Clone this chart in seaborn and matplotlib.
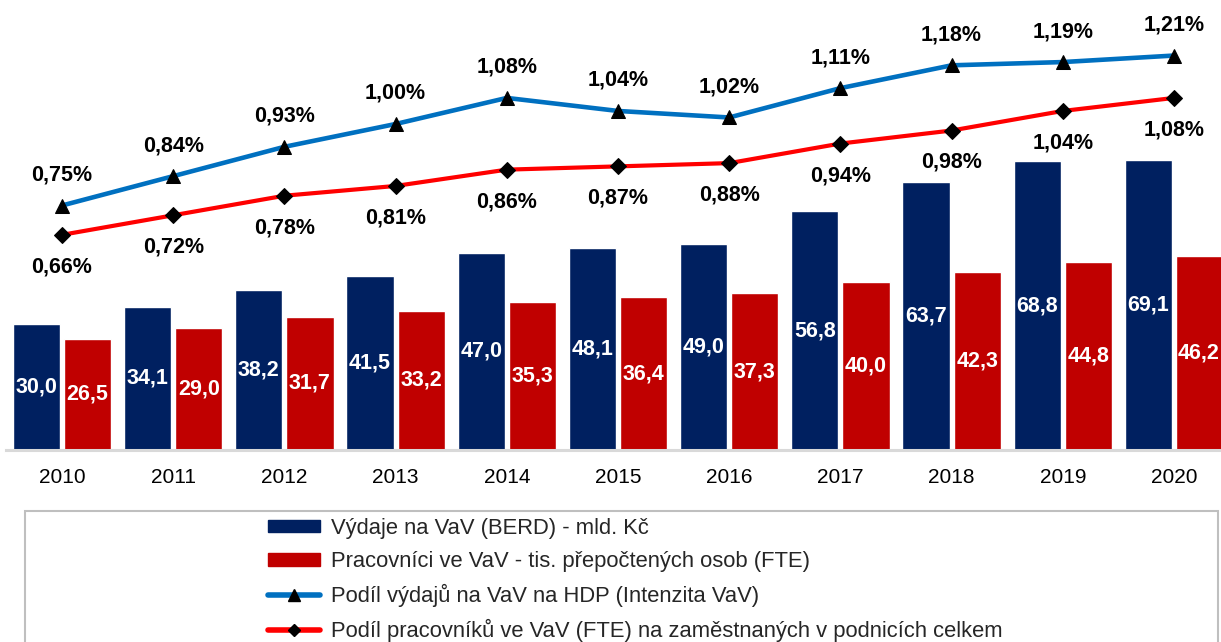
import numpy as np
import pandas as pd
import matplotlib
matplotlib.use('Agg')
import matplotlib.pyplot as plt
import matplotlib.patches as mpatches
from matplotlib.lines import Line2D
import seaborn as sns

# Données
years = ['2010', '2011', '2012', '2013', '2014', '2015', '2016', '2017', '2018', '2019', '2020']
berd = [30.0, 34.1, 38.2, 41.5, 47.0, 48.1, 49.0, 56.8, 63.7, 68.8, 69.1]
fte = [26.5, 29.0, 31.7, 33.2, 35.3, 36.4, 37.3, 40.0, 42.3, 44.8, 46.2]
intenzita = [0.75, 0.84, 0.93, 1.00, 1.08, 1.04, 1.02, 1.11, 1.18, 1.19, 1.21]
podil_fte = [0.66, 0.72, 0.78, 0.81, 0.86, 0.87, 0.88, 0.94, 0.98, 1.04, 1.08]

lab_berd = 'Výdaje na VaV (BERD) - mld. Kč'
lab_fte = 'Pracovníci ve VaV - tis. přepočtených osob (FTE)'
lab_int = 'Podíl výdajů na VaV na HDP (Intenzita VaV)'
lab_pod = 'Podíl pracovníků ve VaV (FTE) na zaměstnaných v podnicích celkem'

navy = '#002060'
red = '#C00000'
blue = '#0070C0'
red_line = '#FF0000'

sns.set_style('white')
plt.rcParams['font.family'] = ['Liberation Sans', 'DejaVu Sans']

df = pd.DataFrame({
    'rok': years * 2,
    'serie': [lab_berd] * len(years) + [lab_fte] * len(years),
    'hodnota': berd + fte,
})

W, H = 1221, 642
fig = plt.figure(figsize=(W / 100, H / 100), dpi=100)
ax = fig.add_axes([6 / W, (H - 450) / H, (W - 6) / W, 450 / H])

sns.barplot(data=df, x='rok', y='hodnota', hue='serie', order=years,
            hue_order=[lab_berd, lab_fte], palette=[navy, red],
            width=0.92, gap=0.08, ax=ax, legend=False, saturation=1)

# popisky sloupců (bílé, uprostřed)
for cont in ax.containers:
    labels = [f'{b.get_height():.1f}'.replace('.', ',') for b in cont]
    ax.bar_label(cont, labels=labels, label_type='center', color='white',
                 fontsize=15.5, fontweight='bold')

ax.set_xlim((6 - 62) / 111.2, (W - 62) / 111.2)
ax.set_ylim(0, 450 / 4.2)
ax.set_xlabel('')
ax.set_ylabel('')
ax.set_yticks([])
for s in ['top', 'right', 'left']:
    ax.spines[s].set_visible(False)
ax.spines['bottom'].set_color('#D9D9D9')
ax.spines['bottom'].set_linewidth(2.2)
ax.tick_params(axis='x', length=0, labelsize=15, pad=13, colors='black')

# čáry na vedlejší ose
ax2 = ax.twinx()
x = np.arange(len(years))
sns.lineplot(x=x, y=intenzita, ax=ax2, color=blue, linewidth=3.3,
             marker='^', markersize=10.5, markerfacecolor='black',
             markeredgecolor='black')
sns.lineplot(x=x, y=podil_fte, ax=ax2, color=red_line, linewidth=3.0,
             marker='D', markersize=8, markerfacecolor='black',
             markeredgecolor='black')
ax2.set_ylim(0, 450 / 326)
ax2.set_yticks([])
for s in ax2.spines.values():
    s.set_visible(False)

for xi, v in zip(x, intenzita):
    ax2.annotate(f'{v:.2f}%'.replace('.', ','), (xi, v), xytext=(0, 22),
                 textcoords='offset points', ha='center', va='center',
                 fontsize=15.5, fontweight='bold', color='black')
for xi, v in zip(x, podil_fte):
    ax2.annotate(f'{v:.2f}%'.replace('.', ','), (xi, v), xytext=(0, -23),
                 textcoords='offset points', ha='center', va='center',
                 fontsize=15.5, fontweight='bold', color='black')

# rámeček legendy
fig.patches.append(mpatches.Rectangle((25 / W, -0.05), (1218 - 25) / W, 1 - 511 / H + 0.05,
                                      transform=fig.transFigure, fill=False,
                                      edgecolor='#BFBFBF', linewidth=1.5))

handles = [
    mpatches.Patch(color=navy, label=lab_berd),
    mpatches.Patch(color=red, label=lab_fte),
    Line2D([], [], color=blue, linewidth=4, marker='^', markersize=8,
           markerfacecolor='black', markeredgecolor='black', label=lab_int),
    Line2D([], [], color=red_line, linewidth=4, marker='D', markersize=6,
           markerfacecolor='black', markeredgecolor='black', label=lab_pod),
]
fig.legend(handles=handles, loc='upper left', bbox_to_anchor=(268 / W, 1 - 518 / H),
           frameon=False, fontsize=15.8, borderpad=0, borderaxespad=0,
           handlelength=2.37, handleheight=0.5, handletextpad=0.5, labelspacing=0.55)

fig.savefig('out.png', dpi=100)
